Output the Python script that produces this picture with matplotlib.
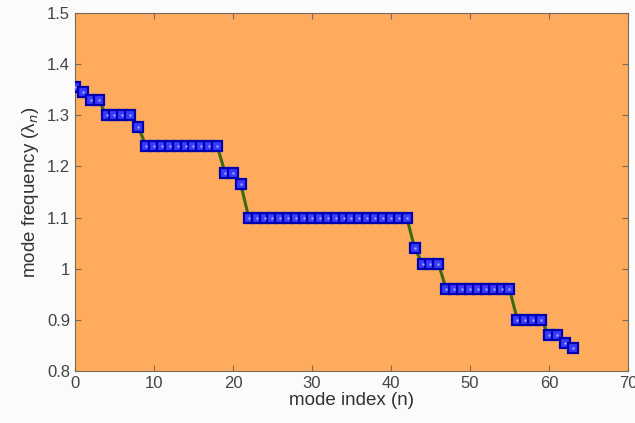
import numpy as np
from matplotlib import pyplot as plt

plt.rcParams["font.family"] = ["Liberation Sans", "DejaVu Sans"]

mode_index = np.arange(0, 64)
mode_freq = np.array([1.355, 1.345, 1.33, 1.33, 1.30, 1.30, 1.30, 1.30, 1.278,
                      1.24, 1.24, 1.24, 1.24, 1.24, 1.24, 1.24, 1.24, 1.24, 1.24,
                      1.188, 1.188, 1.165,
                      1.10, 1.10, 1.10, 1.10, 1.10, 1.10, 1.10, 1.10, 1.10, 1.10,
                      1.10, 1.10, 1.10, 1.10, 1.10, 1.10, 1.10, 1.10, 1.10, 1.10, 1.10,
                      1.04, 1.01, 1.01, 1.01,
                      0.96, 0.96, 0.96, 0.96, 0.96, 0.96, 0.96, 0.96, 0.96,
                      0.90, 0.90, 0.90, 0.90, 0.87, 0.87, 0.855, 0.845])

xticks = [0, 10, 20, 30, 40, 50, 60, 70]
yticks = [0.8, 0.9, 1, 1.1, 1.2, 1.3, 1.4, 1.5]
yticklabels = ["0.8", "0.9", "1", "1.1", "1.2", "1.3", "1.4", "1.5"]

fig = plt.figure(figsize=(6.35, 4.23), dpi=100)
fig.patch.set_facecolor("#fbfbfb")
ax = fig.add_axes([0.118, 0.123, 0.871, 0.846])
ax.set_facecolor("#ffab5e")

ax.plot(mode_index, mode_freq, c="#3d6b10", lw=2.2, zorder=2)
ax.plot(mode_index, mode_freq, ls="none", marker="s", ms=6.8,
        mfc="#3a3aff", mec="#0000b0", mew=1.6, zorder=3)
ax.plot(mode_index, mode_freq, ls="none", marker="s", ms=1.8,
        mfc="#a8b8ff", mec="none", zorder=4)

ax.set_xlim([0, 70])
ax.set_ylim([0.8, 1.5])
ax.set_xticks(xticks)
ax.set_yticks(yticks)
ax.set_yticklabels(yticklabels)
ax.tick_params(direction="in", length=4, colors="#7a6a5a", labelcolor="#444444",
               labelsize=12, top=True, right=True)
for s in ax.spines.values():
    s.set_color("#7a6a5a")
    s.set_linewidth(0.8)

ax.set_xlabel("mode index (n)", fontsize=13.5, color="#333333", labelpad=1)
ax.set_ylabel("mode frequency (λ$_n$)", fontsize=13.5, color="#333333", labelpad=4)

fig.savefig("out.png", dpi=100, facecolor=fig.get_facecolor())
